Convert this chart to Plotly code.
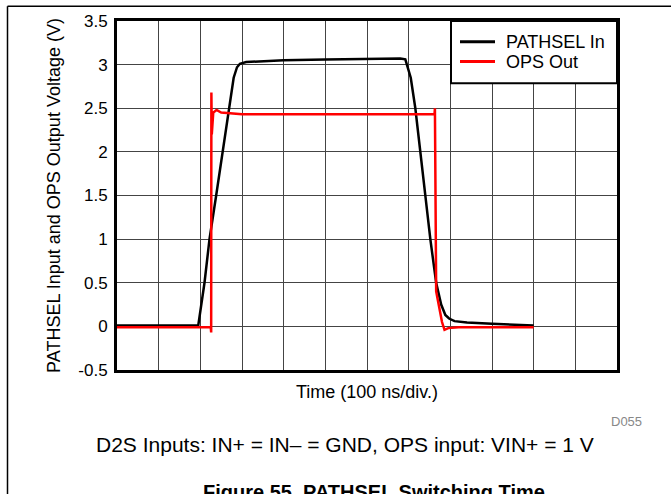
import plotly.graph_objects as go

# time in divisions (100 ns/div), voltages
pathsel_t = [0, 0.5, 1.0, 1.5, 1.95, 2.1, 2.22, 2.38, 2.53, 2.68, 2.8, 2.88, 2.95, 3.1,
             3.5, 4.0, 5.0, 6.0, 6.8, 6.92, 6.98, 7.05, 7.16, 7.28, 7.4, 7.52, 7.66,
             7.78, 7.88, 7.97, 8.1, 8.4, 9.0, 9.5, 10.0]
pathsel_v = [0.01, 0.01, 0.01, 0.01, 0.01, 0.5, 1.0, 1.5, 2.0, 2.5, 2.85, 2.97, 3.01, 3.03,
             3.04, 3.05, 3.06, 3.07, 3.07, 3.06, 2.97, 2.85, 2.5, 2.0, 1.5, 1.0, 0.5,
             0.25, 0.13, 0.09, 0.06, 0.045, 0.03, 0.02, 0.01]

ops_t = [0, 1.0, 2.0, 2.25, 2.26, 2.265, 2.275, 2.31, 2.39, 2.5, 2.7, 3.0, 4.0, 5.0,
         6.0, 7.0, 7.62, 7.63, 7.64, 7.66, 7.72, 7.8, 7.86, 7.95, 8.2, 9.0, 10.0]
ops_v = [-0.01, -0.01, -0.01, -0.01, -0.07, 2.68, 2.2, 2.45, 2.48, 2.45, 2.44, 2.43, 2.43, 2.43,
         2.43, 2.43, 2.43, 2.5, 1.5, 0.4, 0.25, 0.05, -0.04, -0.02, -0.01, -0.01, -0.01]

y_ticks = [-0.5, 0, 0.5, 1, 1.5, 2, 2.5, 3, 3.5]
y_labels = ['-0.5', '0', '0.5', '1', '1.5', '2', '2.5', '3', '3.5']

series_names = ['PATHSEL In', 'OPS Out']
series_colors = ['black', '#ff0000']

font = 'Liberation Sans, Arial, sans-serif'

fig = go.Figure()
fig.add_trace(go.Scatter(x=pathsel_t, y=pathsel_v, mode='lines', name=series_names[0],
                         line=dict(color=series_colors[0], width=2.5)))
fig.add_trace(go.Scatter(x=ops_t, y=ops_v, mode='lines', name=series_names[1],
                         line=dict(color=series_colors[1], width=2.5)))

fig.update_layout(
    width=671, height=494,
    margin=dict(l=117, r=54, t=17, b=124),
    paper_bgcolor='white', plot_bgcolor='white',
    font=dict(family=font, size=17, color='black'),
    showlegend=False,
    xaxis=dict(range=[0, 12], dtick=1, showticklabels=False, ticks='',
               showgrid=True, gridcolor='#444', gridwidth=1, zeroline=False,
               showline=True, mirror=True, linecolor='black', linewidth=3,
               title=dict(text='Time (100 ns/div.)', font=dict(size=18), standoff=14)),
    yaxis=dict(range=[-0.5, 3.5], tickvals=y_ticks, ticktext=y_labels, ticks='',
               ticklabelstandoff=3,
               showgrid=True, gridcolor='#444', gridwidth=1, zeroline=False,
               showline=True, mirror=True, linecolor='black', linewidth=3,
               title=dict(text='PATHSEL Input and OPS Output Voltage (V)', font=dict(size=18),
                          standoff=14)),
)

# legend box in the top-right corner
fig.add_shape(type='rect', xref='paper', yref='paper', x0=0.668, x1=1.0, y0=0.8215, y1=1.0,
              line=dict(color='black', width=2), fillcolor='white')
for i, (name, color) in enumerate(zip(series_names, series_colors)):
    yy = 0.9405 - i * 0.0566
    fig.add_shape(type='line', xref='paper', yref='paper', x0=0.686, x1=0.756, y0=yy, y1=yy,
                  line=dict(color=color, width=3))
    fig.add_annotation(text=name, xref='paper', yref='paper', x=0.774, y=yy,
                       xanchor='left', yanchor='middle', showarrow=False,
                       font=dict(size=18))

# page frame
fig.add_shape(type='line', xref='paper', yref='paper', x0=-0.219, x1=1.2, y0=1.0425, y1=1.0425,
              line=dict(color='black', width=1.5))
fig.add_shape(type='line', xref='paper', yref='paper', x0=-0.219, x1=-0.219, y0=1.0425, y1=-0.4,
              line=dict(color='black', width=1.5))

fig.add_annotation(text='D055', xref='paper', yref='paper', x=1.054, y=-0.147,
                   xanchor='right', yanchor='middle', showarrow=False,
                   font=dict(size=13, color='#888888'))
fig.add_annotation(text='D2S Inputs: IN+ = IN\u2013 = GND, OPS input: VIN+ = 1 V',
                   xref='paper', yref='paper', x=0.456, y=-0.214,
                   xanchor='center', yanchor='middle', showarrow=False,
                   font=dict(size=21))
fig.add_annotation(text='<b>Figure 55. PATHSEL Switching Time</b>',
                   xref='paper', yref='paper', x=0.514, y=-0.35,
                   xanchor='center', yanchor='middle', showarrow=False,
                   font=dict(size=20))

# drop the default page margin so the figure sits at the window's top-left corner
fig.write_html('out.html', config={'displayModeBar': False},
               post_script="document.body.style.margin = '0px';")
